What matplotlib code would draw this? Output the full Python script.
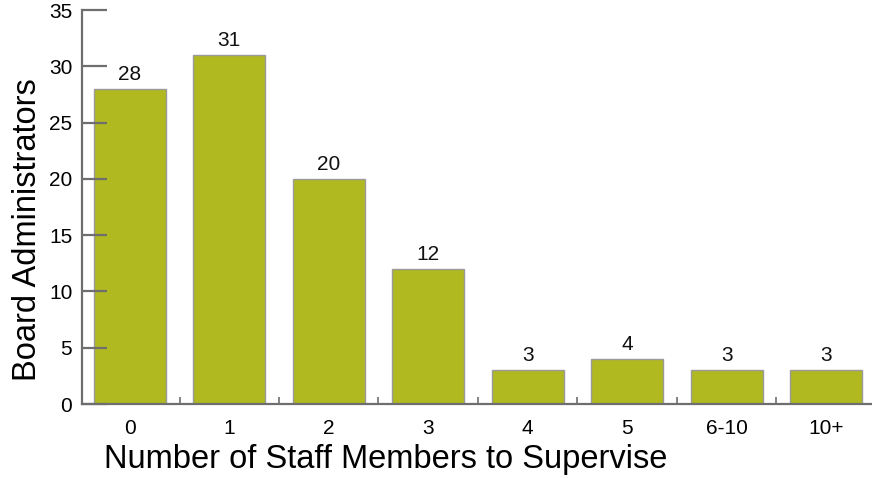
import numpy as np
import matplotlib.pyplot as plt

categories = ['0', '1', '2', '3', '4', '5', '6-10', '10+']
counts = [28, 31, 20, 12, 3, 4, 3, 3]

plt.rcParams['font.family'] = ['Liberation Sans', 'DejaVu Sans']

fig = plt.figure(figsize=(8.72, 4.78), dpi=100)
ax = fig.add_axes([82/872, 74/478, 790/872, 394/478])

x = np.arange(len(categories))
bars = ax.bar(x, counts, width=0.72, color='#b0b91f', edgecolor='#9a9a9a', linewidth=1.0)
for xi, c in zip(x, counts):
    ax.text(xi, c + 0.45, str(c), ha='center', va='bottom', fontsize=15, color='#111111')

ax.set_xlim(-0.48, 7.46)
ax.set_ylim(0, 35)
ax.set_yticks(range(0, 36, 5))
ax.set_xticks(x)
ax.set_xticklabels(categories)
ax.set_xticks(x[:-1] + 0.5, minor=True)

for s in ['top', 'right']:
    ax.spines[s].set_visible(False)
for s in ['left', 'bottom']:
    ax.spines[s].set_color('#6e6e6e')
    ax.spines[s].set_linewidth(1.6)

ax.tick_params(axis='y', direction='in', length=18, width=1.6, color='#6e6e6e',
               labelsize=15, pad=7)
ax.tick_params(axis='x', which='major', length=0, labelsize=15, pad=11)
ax.tick_params(axis='x', which='minor', direction='in', length=5, width=1.2, color='#6e6e6e')

ax.set_xlabel('Number of Staff Members to Supervise', fontsize=23.5, labelpad=4, x=0.385)
ax.set_ylabel('Board Administrators', fontsize=23.5)
ax.yaxis.set_label_coords(-39/790, (404 - 230)/394)

fig.savefig('out.png', dpi=100)
